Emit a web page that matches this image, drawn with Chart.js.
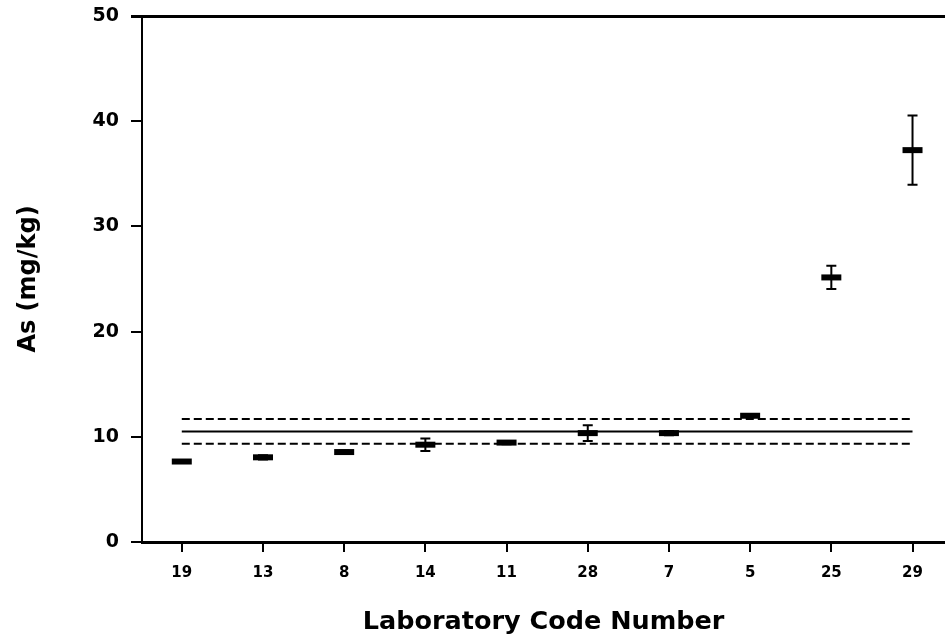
<!DOCTYPE html>
<html>
<head>
<meta charset="utf-8">
<script src="https://cdn.jsdelivr.net/npm/chart.js@4"></script>
<style>
  html, body { margin: 0; padding: 0; background: #fff; overflow: hidden; }
  canvas { display: block; }
</style>
</head>
<body>
<canvas id="chart" width="945" height="642"></canvas>
<script>
const labCodes = ["19", "13", "8", "14", "11", "28", "7", "5", "25", "29"];
const means = [7.65, 8.05, 8.55, 9.25, 9.45, 10.35, 10.35, 12.0, 25.15, 37.25];
const errs = [0.15, 0.2, 0.15, 0.6, 0.15, 0.75, 0.2, 0.15, 1.1, 3.3];
const yTicks = [0, 10, 20, 30, 40, 50];
const refMean = 10.5;
const refUpper = 11.7;
const refLower = 9.35;

const font = "'DejaVu Sans', Arial, sans-serif";

const pts = means.map((m, i) => ({ x: i, y: m }));
const refLine = v => [{ x: 0, y: v }, { x: labCodes.length - 1, y: v }];

// vertical error bars with caps, positioned through the scales
const errorBars = {
  id: "errorBars",
  afterDatasetsDraw(chart) {
    const { ctx, scales: { x, y } } = chart;
    ctx.save();
    ctx.strokeStyle = "#000";
    ctx.lineWidth = 2;
    means.forEach((m, i) => {
      const px = x.getPixelForValue(i);
      const top = y.getPixelForValue(m + errs[i]);
      const bot = y.getPixelForValue(m - errs[i]);
      ctx.beginPath();
      ctx.moveTo(px, top); ctx.lineTo(px, bot);
      ctx.moveTo(px - 5, top); ctx.lineTo(px + 5, top);
      ctx.moveTo(px - 5, bot); ctx.lineTo(px + 5, bot);
      ctx.stroke();
    });
    ctx.restore();
  }
};

new Chart(document.getElementById("chart"), {
  type: "scatter",
  data: {
    datasets: [
      {
        type: "line", data: refLine(refUpper), borderColor: "#000",
        borderWidth: 2, borderDash: [8, 4], pointRadius: 0
      },
      {
        type: "line", data: refLine(refMean), borderColor: "#000",
        borderWidth: 2, pointRadius: 0
      },
      {
        type: "line", data: refLine(refLower), borderColor: "#000",
        borderWidth: 2, borderDash: [8, 4], pointRadius: 0
      },
      {
        data: pts, pointStyle: "line", pointRadius: 10,
        borderColor: "#000", borderWidth: 6, backgroundColor: "#000"
      }
    ]
  },
  options: {
    responsive: false,
    animation: false,
    layout: { autoPadding: false, padding: { top: 16, right: 0, left: 0, bottom: 0 } },
    plugins: { legend: { display: false }, tooltip: { enabled: false } },
    scales: {
      x: {
        type: "linear",
        min: -0.49,
        max: 9.4,
        afterBuildTicks: s => { s.ticks = labCodes.map((_, i) => ({ value: i })); },
        afterFit: s => { s.height = 100; s.paddingLeft = 0; s.paddingRight = 0; },
        border: { color: "#000", width: 3 },
        grid: { color: "transparent", tickColor: "#000", tickLength: 10, lineWidth: 2, drawOnChartArea: false },
        ticks: {
          color: "#000", padding: 12,
          font: { family: font, size: 15, weight: "bold" },
          callback: v => labCodes[v]
        },
        title: {
          display: true, text: "Laboratory Code Number", color: "#000",
          font: { family: font, size: 25.5, weight: "bold" }, padding: { top: 8 }
        }
      },
      y: {
        min: 0,
        max: 50,
        afterBuildTicks: s => { s.ticks = yTicks.map(v => ({ value: v })); },
        afterFit: s => { s.width = 142; s.paddingTop = 0; s.paddingBottom = 0; },
        border: { color: "#000", width: 2 },
        grid: {
          color: c => (c.tick && c.tick.value === 50 ? "#000" : "transparent"),
          lineWidth: c => (c.tick && c.tick.value === 50 ? 3 : 2),
          tickColor: "#000", tickLength: 11
        },
        ticks: {
          color: "#000", padding: 12,
          font: { family: font, size: 19, weight: "bold" }
        },
        title: {
          display: true, text: "As (mg/kg)", color: "#000",
          font: { family: font, size: 24, weight: "bold" }, padding: { top: 14, bottom: 0 }
        }
      }
    }
  },
  plugins: [errorBars]
});
</script>
</body>
</html>
